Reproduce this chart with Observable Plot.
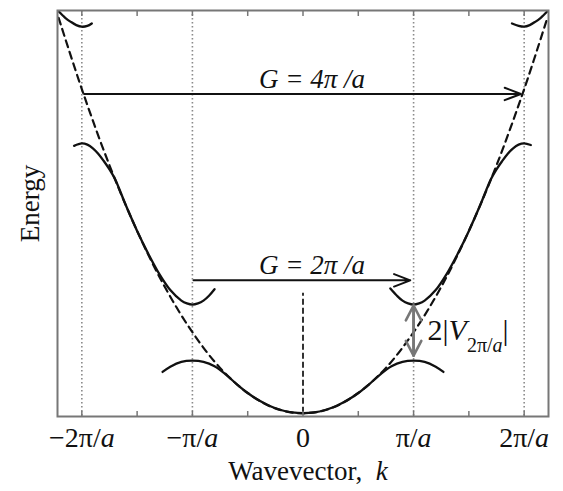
<!DOCTYPE html>
<html><head><meta charset="utf-8">
<script src="https://cdn.jsdelivr.net/npm/d3@7"></script>
<script src="https://cdn.jsdelivr.net/npm/@observablehq/plot@0.6"></script>
<style>body{margin:0;background:#fff} svg{display:block}</style>
</head><body><div id="chart"></div>
<script>
// k in units of pi/a, energy in units where free electron E = k^2
const xDomain = [-2.22, 2.22];
const yDomain = [-0.04, 4.97];

const freeK = [-2.21,-2,-1.75,-1.5,-1.25,-1,-0.75,-0.5,-0.25,0,0.25,0.5,0.75,1,1.25,1.5,1.75,2,2.21];
const freeE = [4.88,4,3.06,2.25,1.56,1,0.56,0.25,0.06,0,0.06,0.25,0.56,1,1.56,2.25,3.06,4,4.88];

const band1K = [-1.27,-1.2,-1.1,-1,-0.9,-0.8,-0.7,-0.6,-0.5,-0.4,-0.3,-0.2,-0.1,0,0.1,0.2,0.3,0.4,0.5,0.6,0.7,0.8,0.9,1,1.1,1.2,1.27];
const band1E = [0.51,0.575,0.635,0.65,0.635,0.58,0.48,0.36,0.25,0.16,0.09,0.04,0.01,0,0.01,0.04,0.09,0.16,0.25,0.36,0.48,0.58,0.635,0.65,0.635,0.575,0.51];

const band2RightK = [0.79,0.85,0.9,0.95,1,1.05,1.1,1.2,1.3,1.4,1.5,1.6,1.7,1.75,1.8,1.85,1.9,1.95,2,2.06];
const band2RightE = [1.54,1.45,1.39,1.355,1.34,1.355,1.39,1.52,1.72,1.97,2.25,2.56,2.89,3.01,3.11,3.2,3.27,3.315,3.33,3.31];
const band2LeftK = [-2.07,-2,-1.95,-1.9,-1.85,-1.8,-1.75,-1.7,-1.6,-1.5,-1.4,-1.3,-1.2,-1.1,-1.05,-1,-0.95,-0.9,-0.85,-0.8];
const band2LeftE = [3.3,3.33,3.315,3.27,3.2,3.11,3.01,2.89,2.56,2.25,1.97,1.72,1.52,1.39,1.355,1.34,1.355,1.39,1.45,1.53];

const band3RightK = [1.89,1.95,2,2.05,2.1,2.15,2.21];
const band3RightE = [4.81,4.78,4.77,4.79,4.83,4.88,4.96];
const band3LeftK = [-2.21,-2.15,-2.1,-2.05,-2,-1.95,-1.91];
const band3LeftE = [4.96,4.88,4.83,4.79,4.77,4.78,4.81];

const zoneBoundaries = [-2, -1, 1, 2];
const zeroLineTop = 1.48;

const gLabels = ["G = 4π /a", "G = 2π /a"];
const gArrowFrom = [-1.98, -0.99];
const gArrowTo = [1.97, 0.97];
const gArrowE = [3.94, 1.64];

const gapK = 1;
const gapTop = 1.33;
const gapBottom = 0.71;
const gapLabel = "2|V2π/a|";

const tickValues = [-2, -1, 0, 1, 2];
const tickLabels = ["−2π/a", "−π/a", "0", "π/a", "2π/a"];
const minorTicks = [-2, -1.5, -1, -0.5, 0, 0.5, 1, 1.5, 2];

const xTitle = "Wavevector,  k";
const yTitle = "Energy";

const toPts = (ks, es, id) => ks.map((k, i) => ({k, e: es[i], id}));
const free = toPts(freeK, freeE, "free");
const bands = [
  ...toPts(band1K, band1E, "b1"),
  ...toPts(band2LeftK, band2LeftE, "b2L"),
  ...toPts(band2RightK, band2RightE, "b2R"),
  ...toPts(band3LeftK, band3LeftE, "b3L"),
  ...toPts(band3RightK, band3RightE, "b3R")
];
const gArrows = gLabels.map((label, i) => ({label, from: gArrowFrom[i], to: gArrowTo[i], e: gArrowE[i]}));
const gapArrows = [{k: gapK, from: gapTop, to: gapBottom}, {k: gapK, from: gapBottom, to: gapTop}];

const serif = "'Liberation Serif', 'Times New Roman', serif";
const ink = "#111";

const chart = Plot.plot({
  width: 563, height: 491,
  marginLeft: 57, marginRight: 15, marginTop: 10, marginBottom: 75,
  x: {domain: xDomain, label: null, axis: null},
  y: {domain: yDomain, label: null, axis: null},
  style: {fontFamily: serif, background: "#fff", color: "#111"},
  marks: [
    Plot.ruleX(zoneBoundaries, {stroke: "#8a8a8a", strokeWidth: 1.6, strokeDasharray: "1.5,2.5"}),
    Plot.ruleX([0], {y1: 0, y2: zeroLineTop, stroke: "#333", strokeWidth: 2, strokeDasharray: "6,3"}),
    Plot.line(free, {x: "k", y: "e", stroke: ink, strokeWidth: 2.2, strokeDasharray: "7,5", curve: "catmull-rom", clip: true}),
    Plot.line(bands, {x: "k", y: "e", z: "id", stroke: ink, strokeWidth: 2.3, curve: "catmull-rom", clip: true}),
    Plot.arrow(gArrows, {x1: "from", x2: "to", y1: "e", y2: "e", stroke: ink, strokeWidth: 2, headLength: 13, headAngle: 42}),
    Plot.arrow(gapArrows, {x1: "k", x2: "k", y1: "from", y2: "to", stroke: "#777", strokeWidth: 2.6, headLength: 11, headAngle: 55}),
    Plot.text(gArrows, {x: 0, y: "e", text: "label", textAnchor: "middle", lineAnchor: "bottom", dx: 9, dy: -6, fontSize: 27, fontStyle: "italic", fill: "#111"}),
    Plot.text([gapLabel], {x: gapK, y: (gapTop + gapBottom) / 2, text: d => d, textAnchor: "start", lineAnchor: "middle", dx: 14, dy: 0, fontSize: 30, fill: "#111"}),
    Plot.axisX({anchor: "bottom", ticks: minorTicks, tickSize: -5, tickFormat: () => "", stroke: "#777", strokeWidth: 1.5, label: null}),
    Plot.axisX({anchor: "top", ticks: minorTicks, tickSize: -5, tickFormat: () => "", stroke: "#777", strokeWidth: 1.5, label: null}),
    Plot.axisX({anchor: "bottom", ticks: tickValues, tickSize: 0, tickPadding: 11, tickFormat: (d, i) => tickLabels[i], fontSize: 28, fill: "#111", label: null}),
    Plot.frame({stroke: "#777", strokeWidth: 2}),
    Plot.text([xTitle], {frameAnchor: "bottom", text: d => d, textAnchor: "middle", lineAnchor: "middle", dx: 5, dy: 55, fontSize: 27, fill: "#111"}),
    Plot.text([yTitle], {frameAnchor: "left", text: d => d, rotate: -90, textAnchor: "middle", lineAnchor: "middle", dx: -27, dy: -10, fontSize: 27, fill: "#111"})
  ]
});
document.getElementById("chart").append(chart);

// rich text: italic letters and subscripts as tspans
const NS = "http://www.w3.org/2000/svg";
function rebuild(textEl, parts) {
  textEl.textContent = "";
  for (const p of parts) {
    const t = document.createElementNS(NS, "tspan");
    t.textContent = p.s;
    if (p.italic) t.setAttribute("font-style", "italic");
    if (p.size) t.setAttribute("font-size", p.size);
    if (p.dy) t.setAttribute("dy", p.dy);
    textEl.appendChild(t);
  }
}
d3.select(chart).selectAll("text").each(function() {
  const s = this.textContent;
  if (tickLabels.includes(s) && s.endsWith("a")) {
    rebuild(this, [{s: s.slice(0, -1)}, {s: "a", italic: true}]);
  } else if (s === xTitle) {
    rebuild(this, [{s: s.slice(0, -1)}, {s: "k", italic: true}]);
  } else if (s === gapLabel) {
    rebuild(this, [
      {s: "2|"}, {s: "V", italic: true},
      {s: "2π/", size: 20, dy: 12}, {s: "a", size: 20, italic: true},
      {s: "|", dy: -12}
    ]);
  }
});
</script>
</body></html>
